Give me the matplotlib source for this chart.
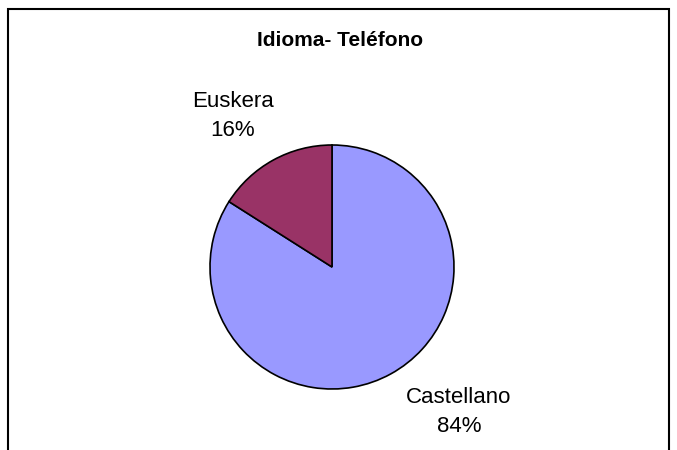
import matplotlib
matplotlib.use('Agg')
import matplotlib.pyplot as plt
from matplotlib.patches import Rectangle

# data
categories = ['Castellano', 'Euskera']
shares = [84, 16]
colors = ['#9999FF', '#993366']
title = 'Idioma- Teléfono'

plt.rcParams['font.family'] = ['Liberation Sans', 'DejaVu Sans']

W, H = 677, 450
fig = plt.figure(figsize=(W / 100, H / 100), dpi=100)

# chart border (bottom edge runs off the picture)
fig.patches.append(Rectangle((8 / W, -0.1), 661 / W, 1.1 - 9 / H, transform=fig.transFigure,
                             fill=False, edgecolor='black', linewidth=1.5))

ax = fig.add_axes([0, 0, 1, 1])
cx, cy, r = 332, 267, 122

wedges, texts = ax.pie(shares, colors=colors, startangle=90, counterclock=False,
                       labels=[f'{c}\n{s}%' for c, s in zip(categories, shares)],
                       wedgeprops=dict(edgecolor='black', linewidth=1.2),
                       textprops=dict(fontsize=16, ha='center', va='center', linespacing=1.5))

# pie resets limits, so set them afterwards
ax.set_xlim(-cx / r, (W - cx) / r)
ax.set_ylim(-(H - cy) / r, cy / r)
ax.set_aspect('equal')
ax.axis('off')

# move labels to where the original places them
label_pos = {'Castellano': (459, 412), 'Euskera': (233, 116)}
for t, c in zip(texts, categories):
    px, py = label_pos[c]
    t.set_position(((px - cx) / r, (cy - py) / r))
    t.set_ha('center')
    t.set_va('center')

fig.text(340 / W, 1 - 41 / H, title, ha='center', va='center', fontsize=15, fontweight='bold')

fig.savefig('out.png', dpi=100)
